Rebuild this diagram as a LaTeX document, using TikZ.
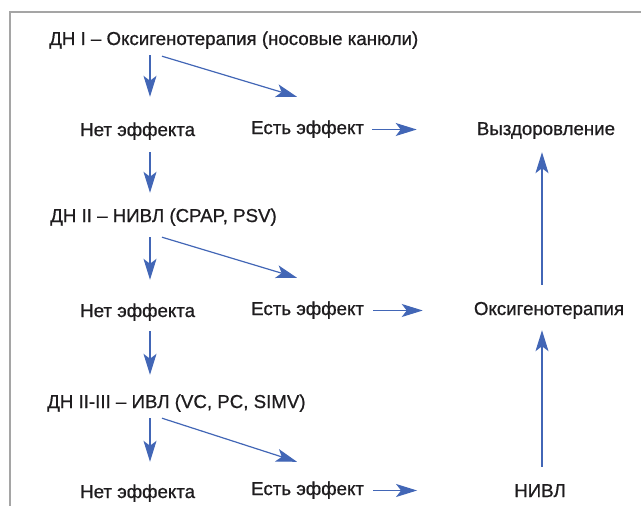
\documentclass[tikz,border=0pt]{standalone}
\usepackage{fontspec}
\setmainfont{Liberation Sans}[BoldFont={Liberation Sans}, BoldFeatures={FakeBold=0.8}]
\usetikzlibrary{arrows.meta,positioning}
\definecolor{arrowblue}{RGB}{66,102,182}
\definecolor{textgray}{RGB}{30,28,30}
\definecolor{framegray}{RGB}{165,165,165}

\begin{document}
\begin{tikzpicture}[x=1pt, y=-1pt,
txt/.style = {font=\fontsize{18.7}{22}\selectfont\bfseries, text=textgray, inner sep=0pt,
              text height=13pt, text depth=4pt, anchor=base west},
res/.style = {txt, anchor=base},
link/.style = {draw, color=arrowblue, line width=1.2pt,
               -{Stealth[length=21pt,width=13pt,inset=5pt]}}]
    \useasboundingbox (0,0) rectangle (641,506);
    \draw[framegray, line width=1.3pt] (10,506) -- (10,12) -- (641,12);
    % left column
    \node [txt] at (49,45)   (T1) {ДН I – Оксигенотерапия (носовые канюли)};
    \node [txt] at (80,136)  (N1) {Нет эффекта};
    \node [txt] at (251,134) (E1) {Есть эффект};
    \node [txt] at (50,222)  (T2) {ДН II – НИВЛ (CPAP, PSV)};
    \node [txt] at (80,317)  (N2) {Нет эффекта};
    \node [txt] at (251,315) (E2) {Есть эффект};
    \node [txt] at (47,408)  (T3) {ДН II-III – ИВЛ (VC, PC, SIMV)};
    \node [txt] at (80,498)  (N3) {Нет эффекта};
    \node [txt] at (251,495) (E3) {Есть эффект};
    % right column
    \node [res] at (546,135) (R1) {Выздоровление};
    \node [res] at (549,315) (O2) {Оксигенотерапия};
    \node [res] at (540,497) (V3) {НИВЛ};
    \path
        ([xshift=101pt,yshift=-6pt]T1.south west)  edge[link] ([xshift=101pt,yshift=26pt]T1.south west |- N1.north)
        ([xshift=113pt,yshift=-7pt]T1.south west)  edge[link] ([xshift=46pt,yshift=24pt]E1.north west)
        ([xshift=121pt]E1.west)                    edge[link] ([xshift=-60pt]E1.east -| R1.west)
        ([xshift=101pt,yshift=-12pt]T1.south west |- N1.south) edge[link] ([xshift=101pt,yshift=16pt]T1.south west |- T2.north)
        ([xshift=100pt,yshift=-11pt]T2.south west) edge[link] ([xshift=100pt,yshift=24pt]T2.south west |- N2.north)
        ([xshift=112pt,yshift=-11pt]T2.south west) edge[link] ([xshift=46pt,yshift=24pt]E2.north west)
        ([xshift=122pt]E2.west)                    edge[link] ([xshift=-51pt]E2.east -| O2.west)
        ([xshift=100pt,yshift=-10pt]T2.south west |- N2.south) edge[link] ([xshift=100pt,yshift=20pt]T2.south west |- T3.north)
        ([xshift=103pt,yshift=-6pt]T3.south west)  edge[link] ([xshift=103pt,yshift=23pt]T3.south west |- N3.north)
        ([xshift=115pt,yshift=-6pt]T3.south west)  edge[link] ([xshift=46pt,yshift=20pt]E3.north west)
        ([xshift=122pt]E3.west)                    edge[link] ([xshift=-97pt]E3.east -| V3.west)
        ([xshift=-4pt,yshift=17pt]R1.south |- O2.north) edge[link] ([xshift=-4pt,yshift=-13pt]R1.south)
        ([xshift=-4pt,yshift=17pt]R1.south |- V3.north) edge[link] ([xshift=-4pt,yshift=-11pt]R1.south |- O2.south)
        ;
\end{tikzpicture}
\end{document}
